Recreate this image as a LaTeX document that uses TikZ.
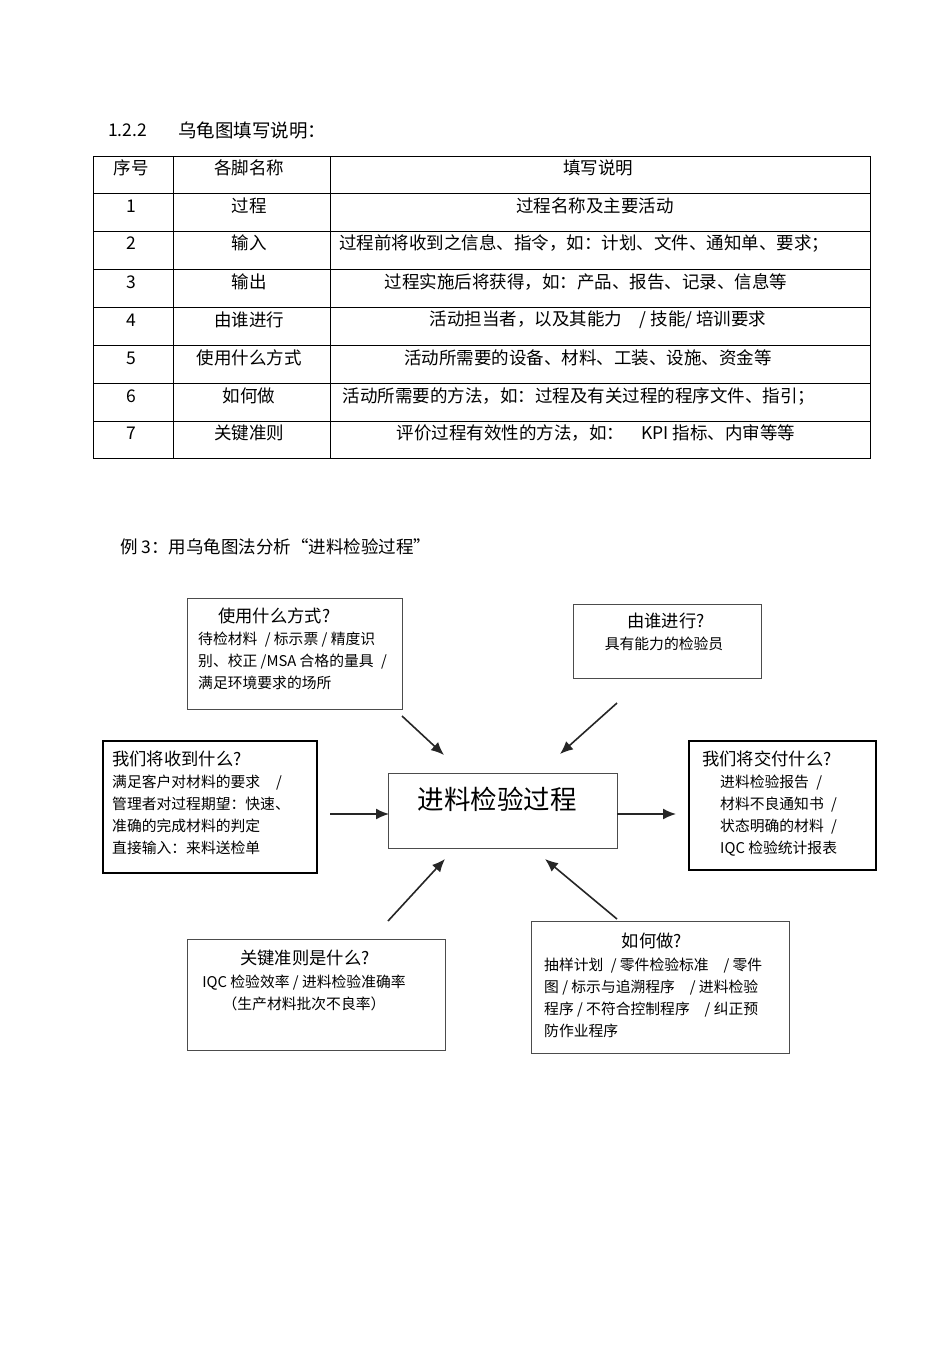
\documentclass[tikz,border=0pt]{standalone}
\usepackage{fontspec}
\setmainfont{Noto Sans CJK SC}
\usetikzlibrary{arrows.meta}
\tikzset{
Cadre/.style={
 draw=black!70,
 line width=1.2pt,
 anchor=north west,
 inner sep=0pt
 },
CadreFort/.style={
 draw=black,
 line width=1.7pt,
 anchor=north west,
 inner sep=0pt
 },
Fleche/.style={
 draw=black!85,
 line width=1.6pt,
 -{Latex[length=13pt,width=11pt]}
 },
Texte/.style={
 font=\fontsize{17.5}{21}\selectfont,
 inner sep=0pt
 },
Titre/.style={
 font=\fontsize{17.3}{21}\selectfont,
 inner sep=0pt
 },
Petit/.style={
 font=\fontsize{14.8}{22}\selectfont,
 inner sep=0pt,
 align=left
 }
}

\begin{document}
\begin{tikzpicture}[x=1pt,y=-1pt]
\useasboundingbox (0,0) rectangle (950,1345);
\fill[white] (0,0) rectangle (950,1345);

% titre du tableau
\node (numTitre) [Texte,anchor=west] at (108,130) {1.2.2};
\node (titreTab) [Texte,anchor=west,font=\fontsize{18.5}{22}\selectfont] at (178,130) {乌龟图填写说明：};

% tableau
\draw[line width=0.9pt] (93,156) rectangle (870,458);
\draw[line width=0.9pt] (173,156) -- (173,458);
\draw[line width=0.9pt] (330,156) -- (330,458);
\foreach \y in {193,231,269,307,345,383,421}
 \draw[line width=0.9pt] (93,\y) -- (870,\y);
\node (hNum) [Texte] at (131,168) {序号};
\node (hNom) [Texte] at (249,168) {各脚名称};
\node (hDesc) [Texte] at (598,168) {填写说明};
\foreach \n/\nom/\desc/\yy/\xx in {
 1/过程/过程名称及主要活动/206/595,
 2/输入/过程前将收到之信息、指令，如：计划、文件、通知单、要求；/243/584,
 3/输出/过程实施后将获得，如：产品、报告、记录、信息等/282/586,
 4/由谁进行/{活动担当者，以及其能力\quad / 技能/ 培训要求}/320/598,
 5/使用什么方式/活动所需要的设备、材料、工装、设施、资金等/358/588,
 6/如何做/活动所需要的方法，如：过程及有关过程的程序文件、指引；/396/579,
 7/关键准则/{评价过程有效性的方法，如：\quad KPI 指标、内审等等}/433/596}
{
 \node (num\n) [Texte] at (131,\yy) {\n};
 \node (nom\n) [Texte] at (249,\yy) {\nom};
 \node (desc\n) [Texte] at (\xx,\yy) {\desc};
}

% exemple
\node (titreEx) [Texte,anchor=west] at (120,547) {例 3：用乌龟图法分析“进料检验过程”};

% boites
\node (centre) [Cadre,minimum width=229pt,minimum height=75pt] at (388,773) {};
\node (centreT) [Texte,font=\fontsize{26.5}{30}\selectfont] at (497,799) {进料检验过程};

\node (usage) [Cadre,minimum width=215pt,minimum height=111pt] at (187,598) {};
\node (usageT) [Titre,anchor=west] at (218,616) {使用什么方式?};
\node (usageL) [Petit,anchor=north west] at (198,632) {待检材料 \;/ 标示票 / 精度识\\别、校正 /MSA 合格的量具 \;/\\满足环境要求的场所};

\node (qui) [Cadre,minimum width=188pt,minimum height=74pt] at (573,604) {};
\node (quiT) [Titre] at (666,621) {由谁进行?};
\node (quiL) [Petit] at (664,644) {具有能力的检验员};

\node (entree) [CadreFort,minimum width=214pt,minimum height=132pt] at (102,740) {};
\node (entreeT) [Titre,anchor=west] at (112,759) {我们将收到什么?};
\node (entreeL) [Petit,anchor=north west] at (112,775) {满足客户对材料的要求\hspace{16pt}/\\管理者对过程期望：快速、\\准确的完成材料的判定\\直接输入：来料送检单};

\node (sortie) [CadreFort,minimum width=187pt,minimum height=129pt] at (688,740) {};
\node (sortieT) [Titre,anchor=west] at (702,759) {我们将交付什么?};
\node (sortieL) [Petit,anchor=north west] at (720,775) {进料检验报告 \;/\\材料不良通知书 \;/\\状态明确的材料 \;/\\IQC 检验统计报表};

\node (critere) [Cadre,minimum width=258pt,minimum height=111pt] at (187,939) {};
\node (critereT) [Titre] at (305,958) {关键准则是什么?};
\node (critereL) [Petit,align=center,anchor=north] at (304,975) {IQC 检验效率 / 进料检验准确率\\（生产材料批次不良率）};

\node (comment) [Cadre,minimum width=258pt,minimum height=132pt] at (531,921) {};
\node (commentT) [Titre] at (652,941) {如何做?};
\node (commentL) [Petit,anchor=north west] at (544,958) {抽样计划 \;/ 零件检验标准\quad / 零件\\图 / 标示与追溯程序\quad / 进料检验\\程序 / 不符合控制程序\quad / 纠正预\\防作业程序};

% fleches
\coordinate (usageA) at (402,716);
\coordinate (usageB) at (444,755);
\coordinate (quiA) at (617,703);
\coordinate (quiB) at (560,754);
\coordinate (entreeA) at (330,814);
\coordinate (entreeB) at (389,814);
\coordinate (sortieA) at (617,814);
\coordinate (sortieB) at (676,814);
\coordinate (critereA) at (388,921);
\coordinate (critereB) at (445,859);
\coordinate (commentA) at (617,919);
\coordinate (commentB) at (545,859);
\draw[Fleche] (usageA) -- (usageB);
\draw[Fleche] (quiA) -- (quiB);
\draw[Fleche] (entreeA) -- (entreeB);
\draw[Fleche] (sortieA) -- (sortieB);
\draw[Fleche] (critereA) -- (critereB);
\draw[Fleche] (commentA) -- (commentB);
\end{tikzpicture}
\end{document}
